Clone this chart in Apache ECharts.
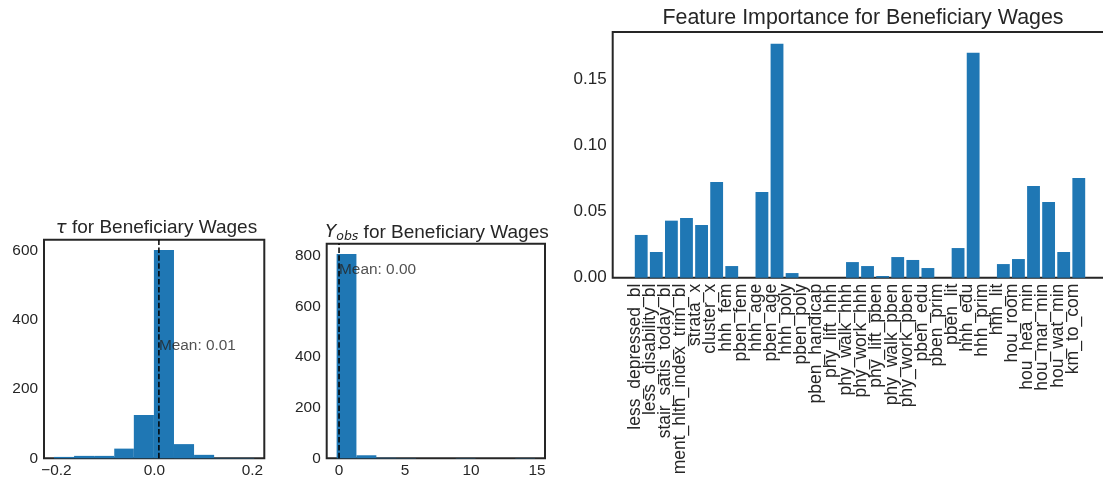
<!DOCTYPE html>
<html>
<head>
<meta charset="utf-8">
<script src="https://cdn.jsdelivr.net/npm/echarts@6/dist/echarts.min.js"></script>
<style>
html,body{margin:0;padding:0;background:#ffffff;}
#chart{width:1103px;height:479px;}
</style>
</head>
<body>
<div id="chart"></div>
<script>
// ---------------- data ----------------
const tauBinEdges = [-0.205, -0.164, -0.123, -0.082, -0.042, -0.001, 0.040, 0.081, 0.122, 0.163, 0.204];
const tauCounts = [4, 7, 7, 28, 125, 602, 41, 10, 1, 1];
const tauMean = 0.0092;
const tauMeanTextY = 326;
const tauXTicks = [-0.2, 0.0, 0.2];
const tauYTicks = [0, 200, 400, 600];

const yobsBinEdges = [-0.18, 1.32, 2.83, 4.33, 5.83, 7.34, 8.84, 10.34, 11.85, 13.35, 14.85];
const yobsCounts = [809, 12, 2, 1, 0, 0, 1, 0, 0, 1];
const yobsMean = 0.003;
const yobsMeanTextY = 747;
const yobsXTicks = [0, 5, 10, 15];
const yobsYTicks = [0, 200, 400, 600, 800];

const featureNames = [
  'less_depressed_bl', 'less_disability_bl', 'stair_satis_today_bl', 'ment_hlth_index_trim_bl',
  'strata_x', 'cluster_x', 'hhh_fem', 'pben_fem', 'hhh_age', 'pben_age', 'hhh_poly', 'pben_poly',
  'pben_handicap', 'phy_lift_hhh', 'phy_walk_hhh', 'phy_work_hhh', 'phy_lift_pben', 'phy_walk_pben',
  'phy_work_pben', 'pben_edu', 'pben_prim', 'pben_lit', 'hhh_edu', 'hhh_prim', 'hhh_lit', 'hou_room',
  'hou_hea_min', 'hou_mar_min', 'hou_wat_min', 'km_to_com'
];
const featureImportance = [
  0.0323, 0.0194, 0.0431, 0.0451, 0.0398, 0.0723, 0.0088, 0.0, 0.0648, 0.1768, 0.0035, 0.0,
  0.0, 0.0, 0.0118, 0.0088, 0.0013, 0.0156, 0.0134, 0.0073, 0.0, 0.0224, 0.1699, 0.0,
  0.0103, 0.0141, 0.0693, 0.0572, 0.0194, 0.0754
];
const importanceYTicks = [0, 0.05, 0.10, 0.15];

const titles = {
  tau: ' for Beneficiary Wages',
  yobs: ' for Beneficiary Wages',
  importance: 'Feature Importance for Beneficiary Wages'
};

// ---------------- styling ----------------
const BLUE = '#1f77b4';
const INK = '#262626';
const FONT = '"Liberation Sans", Arial, sans-serif';

// matplotlib-like limits
function histXRange(edges) {
  const lo = edges[0], hi = edges[edges.length - 1], m = (hi - lo) * 0.05;
  return [lo - m, hi + m];
}
const tauX = histXRange(tauBinEdges);
const yobsX = histXRange(yobsBinEdges);
const tauYMax = Math.max(...tauCounts) * 1.05;
const yobsYMax = Math.max(...yobsCounts) * 1.05;
const impYMax = Math.max(...featureImportance) * 1.05;
const impXMin = -0.4 - 0.05 * (featureNames.length - 1 + 0.8);
const impXMax = featureNames.length - 1 + 0.4 + 0.05 * (featureNames.length - 1 + 0.8);

const histData = (edges, counts) => counts.map((c, i) => [edges[i], edges[i + 1], c]);

const grids = [
  { left: 44, top: 239.7, width: 220.3, height: 218.6 },
  { left: 326.7, top: 243.7, width: 218.3, height: 214.6 },
  { left: 612.7, top: 32, width: 494.6, height: 245.7 }
].map(g => Object.assign(g, {
  show: true, borderColor: INK, borderWidth: 2, backgroundColor: 'transparent',
  containLabel: false, outerBoundsMode: 'none'
}));

function xAxisHist(idx, range, ticks, fmt) {
  return {
    gridIndex: idx, type: 'value', min: range[0], max: range[1],
    axisLine: { show: false }, axisTick: { show: false }, splitLine: { show: false },
    axisLabel: { customValues: ticks, formatter: fmt, color: INK, fontSize: 15.4, fontFamily: FONT, margin: 5,
      showMinLabel: true, showMaxLabel: true }
  };
}
function yAxisCounts(idx, max, ticks, fmt, size) {
  return {
    gridIndex: idx, type: 'value', min: 0, max: max,
    axisLine: { show: false }, axisTick: { show: false }, splitLine: { show: false },
    axisLabel: { customValues: ticks, formatter: fmt, color: INK, fontSize: size, fontFamily: FONT, margin: 6,
      showMinLabel: true, showMaxLabel: true }
  };
}

const histRender = (params, api) => {
  const p0 = api.coord([api.value(0), api.value(2)]);
  const p1 = api.coord([api.value(1), 0]);
  return {
    type: 'rect',
    shape: { x: p0[0], y: p0[1], width: p1[0] - p0[0], height: p1[1] - p0[1] },
    style: { fill: BLUE }
  };
};

// category label positions, padded with blank sentinels at the axis ends
const featureLabelValues = [impXMin].concat(featureNames.map((n, i) => i), [impXMax]);
const featureLabelFormatter = v => {
  const i = Math.round(v);
  return (Math.abs(v - i) < 1e-6 && featureNames[i] !== undefined) ? featureNames[i] : ' ';
};

const chart = echarts.init(document.getElementById('chart'), null, { renderer: 'canvas' });
const impBarWidth = 494.6 / (impXMax - impXMin) * 0.85;

chart.setOption({
  animation: false,
  backgroundColor: '#ffffff',
  textStyle: { fontFamily: FONT, color: INK },
  title: [
    {
      text: '{m|τ}{t|' + titles.tau + '}', left: 151.5, top: 213.5, textAlign: 'center',
      textStyle: { fontWeight: 'normal', rich: {
        m: { fontFamily: 'DejaVu Sans', fontStyle: 'italic', fontWeight: 'normal', fontSize: 18, color: INK },
        t: { fontFamily: FONT, fontWeight: 'normal', fontSize: 19, color: INK }
      } }
    },
    {
      text: '{m|Y}{s|obs}{t|' + titles.yobs + '}', left: 432, top: 216.5, textAlign: 'center',
      textStyle: { fontWeight: 'normal', rich: {
        m: { fontFamily: 'DejaVu Sans', fontStyle: 'italic', fontWeight: 'normal', fontSize: 18, color: INK },
        s: { fontFamily: 'DejaVu Sans', fontStyle: 'italic', fontWeight: 'normal', fontSize: 12.5, color: INK, padding: [9, 0, 0, 0] },
        t: { fontFamily: FONT, fontWeight: 'normal', fontSize: 19, color: INK }
      } }
    },
    {
      text: titles.importance, left: 858, top: 3, textAlign: 'center',
      textStyle: { fontFamily: FONT, fontSize: 21.4, fontWeight: 'normal', color: INK }
    }
  ],
  grid: grids,
  xAxis: [
    xAxisHist(0, tauX, tauXTicks, v => (Math.abs(v) < 1e-9 ? 0 : v).toFixed(1).replace('-', '\u2212')),
    xAxisHist(1, yobsX, yobsXTicks, v => String(Math.round(v))),
    {
      gridIndex: 2, type: 'value', min: impXMin, max: impXMax,
      axisLine: { show: false }, axisTick: { show: false }, splitLine: { show: false },
      axisLabel: {
        customValues: featureLabelValues,
        formatter: featureLabelFormatter,
        showMinLabel: true, showMaxLabel: true, hideOverlap: false,
        rotate: 90, verticalAlign: 'bottom', lineHeight: 12, color: INK, fontSize: 17.5, fontFamily: FONT, margin: 6
      }
    }
  ],
  yAxis: [
    yAxisCounts(0, tauYMax, tauYTicks, v => String(Math.round(v)), 15.4),
    yAxisCounts(1, yobsYMax, yobsYTicks, v => String(Math.round(v)), 15.4),
    yAxisCounts(2, impYMax, importanceYTicks, v => v.toFixed(2), 17)
  ],
  series: [
    {
      type: 'custom', xAxisIndex: 0, yAxisIndex: 0, renderItem: histRender,
      encode: { x: [0, 1], y: 2 }, data: histData(tauBinEdges, tauCounts), silent: true
    },
    {
      type: 'line', xAxisIndex: 0, yAxisIndex: 0, symbol: 'none', silent: true, z: 5,
      data: [[tauMean, 0], [tauMean, tauYMax]],
      lineStyle: { color: '#000000', width: 1.5, type: [5.5, 2.4] }
    },
    {
      type: 'scatter', xAxisIndex: 0, yAxisIndex: 0, symbolSize: 0, silent: true, z: 6,
      data: [[tauMean, tauMeanTextY]],
      label: { show: true, position: 'right', distance: 0, formatter: 'Mean: ' + tauMean.toFixed(2),
        color: INK, fontSize: 15.4, fontFamily: FONT }
    },
    {
      type: 'custom', xAxisIndex: 1, yAxisIndex: 1, renderItem: histRender,
      encode: { x: [0, 1], y: 2 }, data: histData(yobsBinEdges, yobsCounts), silent: true
    },
    {
      type: 'line', xAxisIndex: 1, yAxisIndex: 1, symbol: 'none', silent: true, z: 5,
      data: [[yobsMean, 0], [yobsMean, yobsYMax]],
      lineStyle: { color: '#000000', width: 1.5, type: [5.5, 2.4] }
    },
    {
      type: 'scatter', xAxisIndex: 1, yAxisIndex: 1, symbolSize: 0, silent: true, z: 6,
      data: [[yobsMean, yobsMeanTextY]],
      label: { show: true, position: 'right', distance: 0, formatter: 'Mean: ' + yobsMean.toFixed(2),
        color: INK, fontSize: 15.4, fontFamily: FONT }
    },
    {
      type: 'bar', xAxisIndex: 2, yAxisIndex: 2, silent: true, barWidth: impBarWidth,
      itemStyle: { color: BLUE },
      data: featureImportance.map((v, i) => [i, v])
    }
  ]
});
</script>
</body>
</html>
